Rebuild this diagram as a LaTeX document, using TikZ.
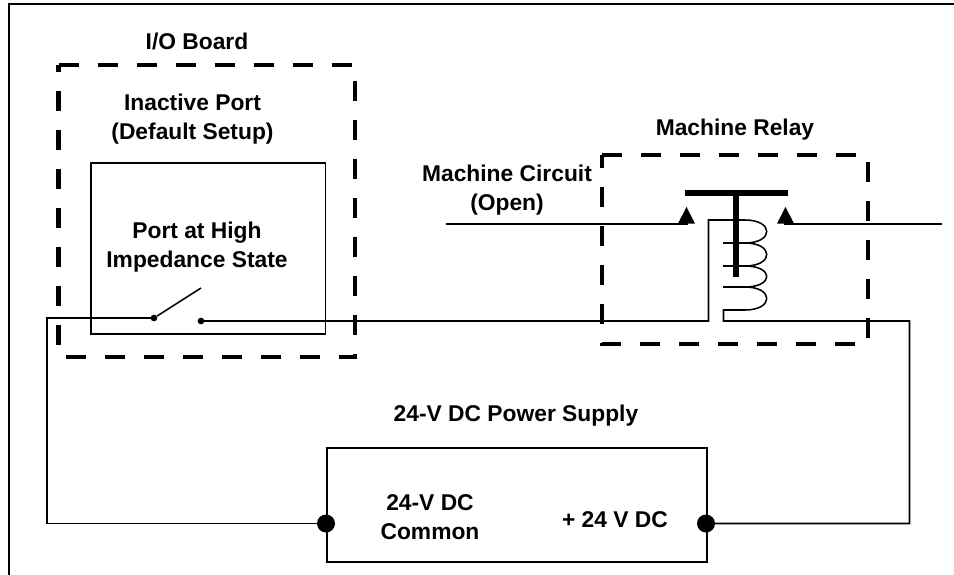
\documentclass[tikz,border=0pt]{standalone}
\usepackage{fontspec}
\setmainfont{Liberation Sans}
\begin{document}
\begin{tikzpicture}[x=0.75pt,y=-0.75pt,
  wire/.style={line width=1.15pt,line join=miter},
  dashbox/.style={line width=3.4pt,dash pattern=on 15pt off 14.25pt},
  solidbox/.style={draw,line width=1.3pt,inner sep=0pt},
  lbl/.style={font=\fontsize{17.1}{21.75}\selectfont\bfseries,align=center,inner sep=0pt},
  terminal/.style={circle,fill=black,inner sep=0pt,minimum size=#1},
  contact/.style={fill=black}]
\useasboundingbox (0,0) rectangle (954,575);
% outer frame
\coordinate (fbl) at (9,575);
\coordinate (ftl) at (9,4);
\coordinate (ftr) at (954,4);
\draw[line width=1.5pt] (fbl) -- (ftl) -- (ftr);
% boxes
\draw[dashbox] (58.5,65) coordinate (ioa) -- (355,65) -- (355,357) -- (58.5,357) -- cycle;
\draw[dashbox] (602,155) coordinate (rla) -- (868,155) -- (868,344) -- (602,344) -- cycle;
\node[solidbox,minimum width=175.9pt,minimum height=128.25pt] (port) at (208.25,248.5) {};
\node[solidbox,minimum width=285pt,minimum height=85.5pt] (psu) at (517,505) {};
% terminals
\node[terminal=5pt] (swa) at (154,318) {};
\node[terminal=5pt] (swb) at (201,321) {};
\node[terminal=13.5pt] (tneg) at (326,523.5) {};
\node[terminal=13.5pt] (tpos) at (706,523.5) {};
% wiring
\coordinate (swtip) at (201,288);
\draw[wire] (swa) -- (swtip);
\draw[wire] (tneg.center) -- (47,523.5) -- (47,318) -- (swa.center);
\draw[wire] (swb.center) -- (708.5,321) -- (708.5,220) -- (745,220)
  .. controls (774,220) and (774,243) .. (745,243) -- (723,243);
\draw[wire] (745,243) .. controls (774,243) and (774,266) .. (745,266) -- (723,266);
\draw[wire] (745,266) .. controls (774,266) and (774,287) .. (745,287) -- (723,287);
\draw[wire] (745,287) .. controls (774,287) and (774,310) .. (745,310) -- (723.5,310) -- (723.5,321) -- (909.5,321) -- (909.5,523.5) -- (tpos.center);
% armature
\coordinate (tl) at (685,193);
\coordinate (tr) at (788,193);
\coordinate (tm) at (736,193);
\coordinate (tb) at (736,277);
\draw[line width=4pt] (tl) -- (tr);
\draw[line width=4.4pt] (tm) -- (tb);
% contacts
\coordinate (cla) at (446,224);
\coordinate (clb) at (688,224);
\coordinate (cra) at (784,224);
\coordinate (crb) at (942,224);
\draw[wire] (cla) -- (clb);
\draw[wire] (cra) -- (crb);
\fill[contact] (686.5,207) -- (695,223.5) -- (678,223.5) -- cycle;
\fill[contact] (785.5,207) -- (794,223.5) -- (777,223.5) -- cycle;
% labels
\node[lbl] (t1) at (197,41) {I/O Board};
\node[lbl] (t2) at (192.5,119.5) {Inactive Port\\(Default Setup)};
\node[lbl] (t3) at (197,247.5) {Port at High\\Impedance State};
\node[lbl] (t4) at (735,130) {Machine Relay};
\node[lbl] (t5) at (507,190.5) {Machine Circuit\\(Open)};
\node[lbl] (t6) at (516,416) {24-V DC Power Supply};
\node[lbl] (t7) at (430,517) {24-V DC\\Common};
\node[lbl] (t8) at (615,520) {+ 24 V DC};
\end{tikzpicture}
\end{document}
